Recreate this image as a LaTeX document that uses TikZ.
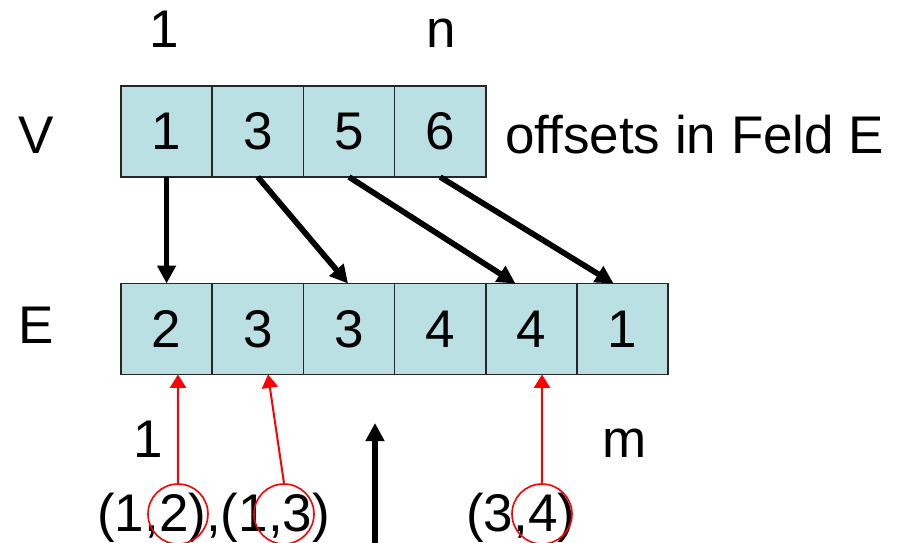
\documentclass[tikz,border=0pt]{standalone}
\usepackage{fontspec}
\setmainfont{Liberation Sans}
\usetikzlibrary{arrows.meta,calc}
\definecolor{cellfill}{RGB}{187,224,227}
\definecolor{redline}{RGB}{255,0,0}
\tikzset{
  cell/.style={draw=black!85, line width=1.1pt, fill=cellfill, inner sep=0pt, outer sep=0pt,
    minimum width=68.4pt, minimum height=68.25pt, font=\fontsize{39.75}{48}\selectfont},
  lbl/.style={inner sep=0pt, font=\fontsize{39.75}{48}\selectfont},
  blk/.style={line width=4.3pt, -{Triangle[length=13.5pt,width=13.5pt]}},
  redarrow/.style={draw=redline, line width=1.5pt, -{Triangle[length=10pt,width=12pt]}},
  redring/.style={draw=redline, line width=1.2pt, circle, minimum size=45pt, inner sep=0pt}
}
\begin{document}
\begin{tikzpicture}[x=0.75pt,y=-0.75pt]
\useasboundingbox (0,0) rectangle (904,543);
% V row
\node[cell] (v1) at (166.6,131.5) {1};
\node[cell] (v2) at (257.8,131.5) {3};
\node[cell] (v3) at (349.0,131.5) {5};
\node[cell] (v4) at (440.2,131.5) {6};
% E row
\node[cell] (e1) at (166.6,329) {2};
\node[cell] (e2) at (257.8,329) {3};
\node[cell] (e3) at (349.0,329) {3};
\node[cell] (e4) at (440.2,329) {4};
\node[cell] (e5) at (531.4,329) {4};
\node[cell] (e6) at (622.6,329) {1};
% labels
\node[lbl, anchor=base] (top1) at (164,47) {1};
\node[lbl, anchor=base] (topn) at (441,47) {n};
\node[lbl, anchor=base] (lv) at (36,153) {V};
\node[lbl, anchor=base west] (off) at (505,153) {offsets in Feld E};
\node[lbl, anchor=base] (le) at (36,343) {E};
\node[lbl, anchor=base] (bot1) at (148,457) {1};
\node[lbl, anchor=base] (botm) at (625,457) {m};
\node[lbl, anchor=base west] (p1) at (97,531) {(1,2),(1,3)};
\node[lbl, anchor=base west] (p2) at (466,531) {(3,4)};
% red circles
\node[redring] (c1) at (178,514) {};
\node[redring] (c2) at (284,514) {};
\node[redring] (c3) at (542,514) {};
% black arrows
\draw[blk] (v1.south) -- (e1.north);
\draw[blk] (v2.south) -- ($(e3.north)+(-1,0)$);
\draw[blk] (v3.south) -- ($(e5.north)+(-16,0)$);
\draw[blk] (v4.south) -- ($(e6.north)+(-9,0)$);
% red arrows
\draw[redarrow] (c1.north) -- ($(e1.south)+(11.4,0)$);
\draw[redarrow] (c2.north) -- ($(e2.south)+(10.2,0)$);
\draw[redarrow] (c3.north) -- ($(e5.south)+(10.6,0)$);
% black up arrow
\coordinate (up0) at (375,546);
\coordinate (up1) at (375,423);
\draw[blk] (up0) -- (up1);
\end{tikzpicture}
\end{document}
